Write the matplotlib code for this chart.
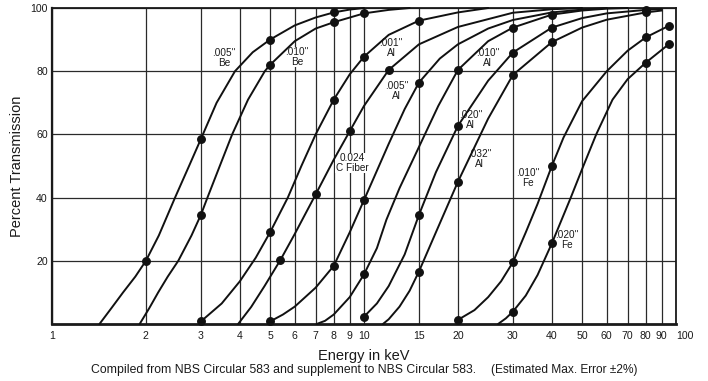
import matplotlib
matplotlib.use("Agg")
import matplotlib.pyplot as plt
from matplotlib.ticker import FixedLocator, NullLocator

plt.rcParams["font.family"] = ["Liberation Sans", "DejaVu Sans"]

# energy ticks (keV) and transmission ticks (%)
x_ticks = [1, 2, 3, 4, 5, 6, 7, 8, 9, 10, 15, 20, 30, 40, 50, 60, 70, 80, 90, 100]
y_ticks = [20, 40, 60, 80, 100]

# traced transmission curves: energy (keV) / percent transmitted
be005_e = [1.42, 1.55, 1.69, 1.85, 2.0, 2.2, 2.48, 2.75, 3.0, 3.37, 3.86, 4.4, 5.0, 6.0, 7.0, 8.0, 9.0, 10.0]
be005_t = [0, 5, 10, 15, 20, 28, 40, 50, 58.5, 70, 80, 86, 90, 94.5, 97, 98.6, 99.5, 100]
be010_e = [1.91, 2.05, 2.19, 2.35, 2.54, 2.8, 3.0, 3.15, 3.45, 3.78, 4.25, 4.81, 5.0, 6.0, 7.0, 8.0, 10.0, 12.0, 14.0]
be010_t = [0, 5, 10, 15, 20, 28, 34.5, 40, 50, 60, 71, 80, 82, 89.5, 93.5, 95.5, 98.3, 99.4, 100]
al001_e = [3.0, 3.5, 4.0, 4.5, 5.0, 5.7, 6.3, 7.0, 8.0, 9.0, 10.0, 12.0, 15.0, 20.0, 25.0]
al001_t = [0.8, 6.5, 13.5, 21, 29, 40, 50, 60, 71, 79, 84.6, 91.5, 96, 98.6, 100]
cf024_e = [3.95, 4.35, 4.8, 5.4, 6.0, 6.5, 7.0, 8.0, 9.0, 10.0, 12.0, 15.0, 20.0, 30.0, 40.0, 50.0]
cf024_t = [0, 5.4, 12, 20.3, 28.5, 35, 41, 52, 61, 69, 80.4, 88.5, 94, 98.5, 99.6, 100]
al005_e = [5.0, 5.5, 6.0, 7.0, 8.0, 9.0, 10.0, 11.0, 12.0, 13.5, 15.0, 17.5, 20.0, 25.0, 30.0, 40.0, 50.0, 60.0]
al005_t = [0.8, 3, 5.5, 11.5, 18.4, 29, 39.2, 48.5, 57, 68, 76.4, 84, 88.5, 93.5, 96.2, 98.6, 99.5, 100]
al010_e = [7.05, 7.5, 8.0, 9.0, 10.0, 11.0, 11.8, 13.0, 15.0, 17.3, 20.0, 25.0, 30.0, 40.0, 50.0, 60.0, 70.0]
al010_t = [0, 1, 3, 8.5, 15.7, 24, 33, 43, 56, 69, 80.4, 89.5, 93.8, 97.9, 99.2, 99.8, 100]
al020_e = [10.0, 11.0, 12.0, 13.5, 15.0, 17.0, 20.0, 25.0, 30.0, 40.0, 50.0, 60.0, 80.0, 90.0]
al020_t = [2.3, 6.5, 12, 22, 34.5, 48, 62.7, 77, 85.9, 93.8, 96.8, 98.3, 99.4, 99.7]
al032_e = [11.5, 12.0, 13.0, 14.0, 15.0, 17.0, 20.0, 25.0, 30.0, 40.0, 50.0, 60.0, 80.0, 90.0]
al032_t = [0, 1.5, 5.5, 10.5, 16.6, 29, 45, 65, 78.8, 89.2, 93.8, 96.3, 98.6, 99.2]
fe010_e = [20.0, 22.6, 25.0, 27.5, 30.0, 33.0, 36.0, 40.0, 43.6, 50.0, 60.0, 70.0, 80.0, 95.0]
fe010_t = [1.3, 4.4, 8.5, 13.5, 19.5, 29, 38, 50, 59, 70.5, 80, 86.5, 90.7, 94.4]
fe020_e = [26.9, 28.5, 30.0, 33.0, 36.0, 40.0, 43.0, 46.0, 50.0, 55.5, 62.6, 70.0, 80.0, 95.0]
fe020_t = [0, 1.8, 3.9, 9, 15.5, 25.5, 33, 40, 49, 60, 71, 77.5, 82.7, 88.6]

# measured points (dots) on each curve
be005_pe = [2, 3, 5, 8]
be005_pt = [20, 58.5, 90, 98.6]
be010_pe = [3, 5, 8, 10]
be010_pt = [34.5, 82, 95.5, 98.3]
al001_pe = [3, 5, 8, 10, 15]
al001_pt = [0.8, 29, 71, 84.6, 96]
cf024_pe = [5.4, 7, 9, 12]
cf024_pt = [20.3, 41, 61, 80.4]
al005_pe = [5, 8, 10, 15]
al005_pt = [0.8, 18.4, 39.2, 76.4]
al010_pe = [10, 20, 30, 40]
al010_pt = [15.7, 80.4, 93.8, 97.9]
al020_pe = [10, 15, 20, 30, 40, 80]
al020_pt = [2.3, 34.5, 62.7, 85.9, 93.8, 99.4]
al032_pe = [15, 20, 30, 40, 80]
al032_pt = [16.6, 45, 78.8, 89.2, 98.6]
fe010_pe = [20, 30, 40, 80, 95]
fe010_pt = [1.3, 19.5, 50, 90.7, 94.4]
fe020_pe = [30, 40, 80, 95]
fe020_pt = [3.9, 25.5, 82.7, 88.6]

curves = [
    (be005_e, be005_t, be005_pe, be005_pt),
    (be010_e, be010_t, be010_pe, be010_pt),
    (al001_e, al001_t, al001_pe, al001_pt),
    (cf024_e, cf024_t, cf024_pe, cf024_pt),
    (al005_e, al005_t, al005_pe, al005_pt),
    (al010_e, al010_t, al010_pe, al010_pt),
    (al020_e, al020_t, al020_pe, al020_pt),
    (al032_e, al032_t, al032_pe, al032_pt),
    (fe010_e, fe010_t, fe010_pe, fe010_pt),
    (fe020_e, fe020_t, fe020_pe, fe020_pt),
]

# curve labels: text, energy, percent
labels = [
    ('.005"\nBe', 3.56, 84.2),
    ('.010"\nBe', 6.1, 84.5),
    ('.001"\nAl', 12.2, 87.3),
    ('.005"\nAl', 12.7, 73.7),
    ('0.024\nC Fiber', 9.15, 51),
    ('.010"\nAl', 24.9, 84.2),
    ('.020"\nAl', 22.0, 64.6),
    ('.032"\nAl', 23.5, 52.2),
    ('.010"\nFe', 33.5, 46.2),
    ('.020"\nFe', 44.7, 26.6),
]

fig = plt.figure(figsize=(7.08, 3.81), dpi=100)
ax = fig.add_axes([0.0734, 0.1496, 0.8814, 0.8294])
ax.set_xscale("log")
ax.set_xlim(1, 100)
ax.set_ylim(0, 100)

ax.xaxis.set_major_locator(FixedLocator(x_ticks))
ax.xaxis.set_minor_locator(NullLocator())
ax.set_xticklabels([str(v) for v in x_ticks])
ax.get_xticklabels()[-1].set_horizontalalignment("left")
ax.set_yticks(y_ticks)
ax.tick_params(length=0, labelsize=7.6, colors="#1a1a1a")
ax.tick_params(axis="x", pad=5)
ax.tick_params(axis="y", pad=3)
ax.grid(True, color="#2a2a2a", lw=0.9, zorder=0)
ax.set_axisbelow(True)

for sp in ax.spines.values():
    sp.set_color("#1a1a1a")
    sp.set_linewidth(1.3)
ax.spines["bottom"].set_linewidth(2.0)
ax.spines["left"].set_linewidth(1.6)

for e, t, pe, pt in curves:
    ax.plot(e, t, color="#111111", lw=1.4, zorder=4, clip_on=False,
            solid_capstyle="round")
    ax.plot(pe, pt, "o", color="#111111", ms=5.4, zorder=5, clip_on=False)

for txt, ex, ty in labels:
    ax.text(ex, ty, txt, fontsize=7.2, ha="center", va="center",
            linespacing=0.95, color="#1a1a1a", zorder=3,
            bbox=dict(facecolor="white", edgecolor="none", pad=0.3))

ax.set_ylabel("Percent Transmission", fontsize=10.5, color="#1a1a1a")
ax.yaxis.set_label_coords(-0.045, 0.5)
ax.set_xlabel("Energy in keV", fontsize=10.5, color="#1a1a1a")
ax.xaxis.set_label_coords(0.5, -0.078)

fig.text(0.128, 0.03, "Compiled from NBS Circular 583 and supplement to NBS Circular 583.",
         fontsize=8.8, color="#1a1a1a", va="center")
fig.text(0.694, 0.03, "(Estimated Max. Error \u00b12%)",
         fontsize=8.6, color="#1a1a1a", va="center")

fig.savefig("out.png", dpi=100)
